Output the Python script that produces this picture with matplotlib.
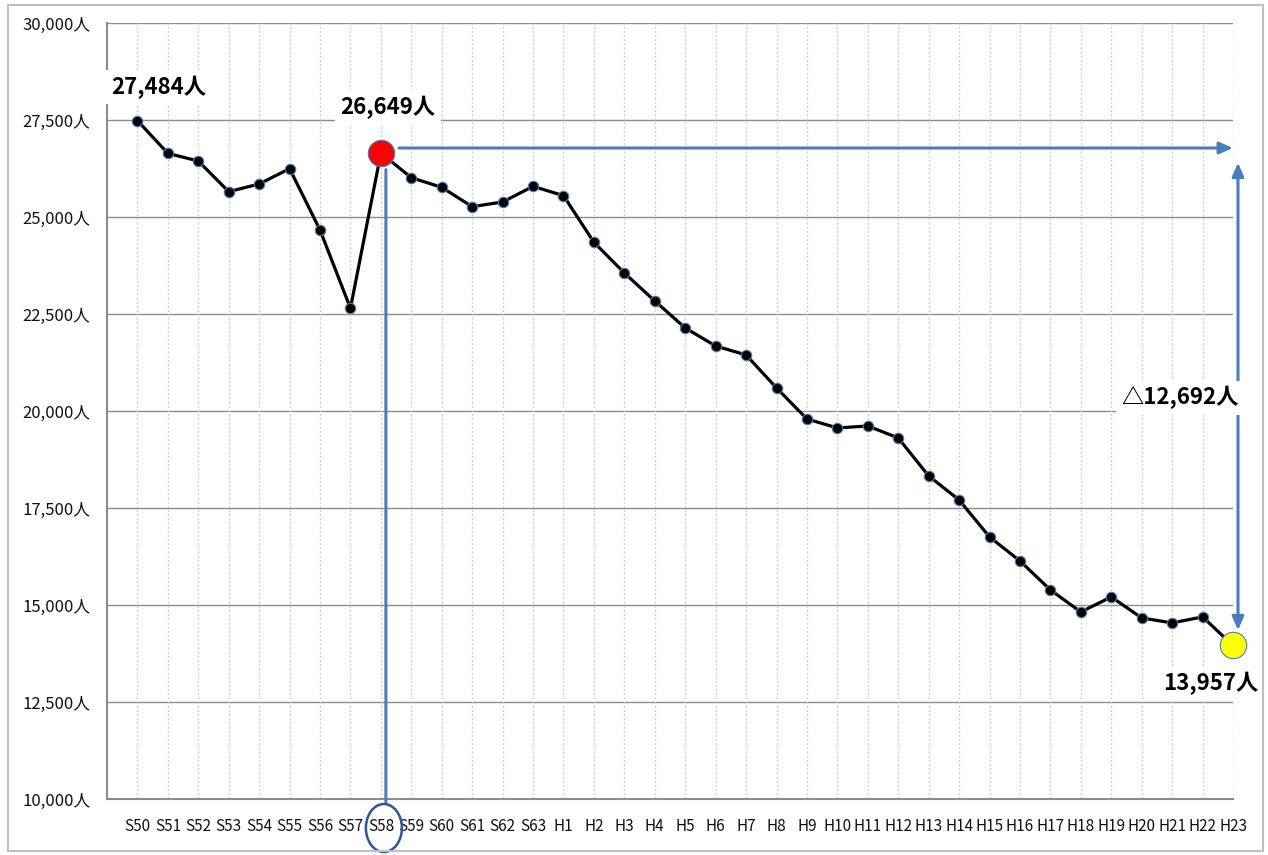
import numpy as np
import matplotlib
matplotlib.use("Agg")
import matplotlib.pyplot as plt
from matplotlib.patches import Ellipse, Rectangle
from matplotlib.transforms import ScaledTranslation, blended_transform_factory

plt.rcParams['font.family'] = ['Noto Sans CJK JP', 'DejaVu Sans']

years = ['S50', 'S51', 'S52', 'S53', 'S54', 'S55', 'S56', 'S57', 'S58', 'S59',
         'S60', 'S61', 'S62', 'S63',
         'H1', 'H2', 'H3', 'H4', 'H5', 'H6', 'H7', 'H8', 'H9', 'H10', 'H11',
         'H12', 'H13', 'H14', 'H15', 'H16', 'H17', 'H18', 'H19', 'H20', 'H21',
         'H22', 'H23']
people = [27484, 26640, 26443, 25653, 25851, 26246, 24665, 22647, 26649, 26013,
          25765, 25266, 25387, 25790, 25550, 24348, 23557, 22836, 22140, 21676,
          21444, 20594, 19794, 19563, 19614, 19305, 18326, 17707, 16754, 16135,
          15388, 14821, 15208, 14667, 14538, 14693, 13957]
yticks = [10000, 12500, 15000, 17500, 20000, 22500, 25000, 27500, 30000]

blue = '#4a7ebb'
x = np.arange(len(years))
i_peak = years.index('S58')
i_last = len(years) - 1
peak = people[i_peak]
last = people[i_last]

fig = plt.figure(figsize=(12.68, 8.55), dpi=100)
ax = fig.add_axes([107 / 1268, 1 - 799 / 855, (1233 - 107) / 1268, (799 - 23) / 855])

def shifted(dx, dy, base):
    # offset in points from a base transform
    return base + ScaledTranslation(dx / 72, dy / 72, fig.dpi_scale_trans)

# grid
for v in yticks:
    ax.axhline(v, color='#8c8c8c', lw=1.0, zorder=0)
for xi in x:
    ax.axvline(xi, color='#cfcfcf', lw=1.0, ls=(0, (1.5, 1.5)), zorder=0)

ax.plot(x, people, color='black', lw=2.3, zorder=3, clip_on=False)
ax.plot(x, people, 'o', ms=7.5, mfc='black', mec=blue, mew=0.8, zorder=4, clip_on=False)
ax.plot(x[i_peak], peak, 'o', ms=19, mfc='#ff0000', mec=blue, mew=0.8, zorder=5,
        clip_on=False)
ax.plot(x[i_last], last, 'o', ms=19, mfc='#ffff00', mec=blue, mew=0.8, zorder=5,
        clip_on=False)

ax.set_xlim(-1, len(years) - 1)
ax.set_ylim(10000, 30000)
ax.set_xticks(x)
ax.set_xticklabels(years, fontsize=11, color='#111111')
ax.set_yticks(yticks)
ax.set_yticklabels([f'{v:,}人' for v in yticks], fontsize=12, color='#111111')
ax.tick_params(length=0)
ax.tick_params(axis='y', pad=12)
ax.tick_params(axis='x', pad=14)
for s in ['top', 'right']:
    ax.spines[s].set_visible(False)
for s in ['left', 'bottom']:
    ax.spines[s].set_color('#8c8c8c')
    ax.spines[s].set_linewidth(1.5)

box = dict(boxstyle='square,pad=0.25', fc='white', ec='none')
lab = dict(fontsize=16, fontweight='bold', ha='center', va='center', zorder=8,
           bbox=box, annotation_clip=False)

ax.annotate(f'{people[0]:,}人', (x[0], people[0]), xytext=(15, 24),
            textcoords='offset points', **lab)
ax.annotate(f'{peak:,}人', (x[i_peak], peak), xytext=(5, 33),
            textcoords='offset points', **lab)
ax.annotate(f'{last:,}人', (x[i_last], last), xytext=(-16, -27),
            textcoords='offset points', **lab)

# horizontal arrow from peak to last year
arr = dict(arrowstyle='-|>,head_length=0.8,head_width=0.35', color=blue, lw=2.2,
           shrinkA=0, shrinkB=0)
ax.annotate('', xy=(x[i_last], peak), xycoords=shifted(0, 3.6, ax.transData),
            xytext=(x[i_peak], peak), textcoords=shifted(13, 3.6, ax.transData),
            arrowprops=arr, annotation_clip=False, zorder=6)

# vertical double arrow showing the decrease
arr2 = dict(arrowstyle='<|-|>,head_length=0.8,head_width=0.35', color=blue, lw=2.2,
            shrinkA=0, shrinkB=0)
ax.annotate('', xy=(x[i_last], last), xycoords=shifted(3.6, 11, ax.transData),
            xytext=(x[i_last], peak), textcoords=shifted(3.6, -7, ax.transData),
            arrowprops=arr2, annotation_clip=False, zorder=6)
ax.annotate(f'△{peak - last:,}人', (x[i_last], (peak + last) / 2), xytext=(-38, 1),
            textcoords='offset points', **lab)

# vertical line from peak down to S58 label
blend = blended_transform_factory(ax.transData, ax.transAxes)
ax.annotate('', xy=(x[i_peak], 0), xycoords=shifted(3.6, -3, blend),
            xytext=(x[i_peak], peak), textcoords=shifted(3.6, -12, ax.transData),
            arrowprops=dict(arrowstyle='-', color=blue, lw=2.2, shrinkA=0, shrinkB=0),
            annotation_clip=False, zorder=6)
ell_trans = fig.dpi_scale_trans + ScaledTranslation(x[i_peak], 0, blend)
ax.add_patch(Ellipse((0.03, -0.29), 0.36, 0.48, transform=ell_trans, fill=False,
                     ec='#2f5597', lw=1.8, clip_on=False, zorder=6))

# outer frame
fig.patches.append(Rectangle((8 / 1268, 4 / 855), 1255 / 1268, 846 / 855,
                             transform=fig.transFigure, fill=False,
                             ec='#bfbfbf', lw=1.5))

fig.savefig('out.png', dpi=100)
